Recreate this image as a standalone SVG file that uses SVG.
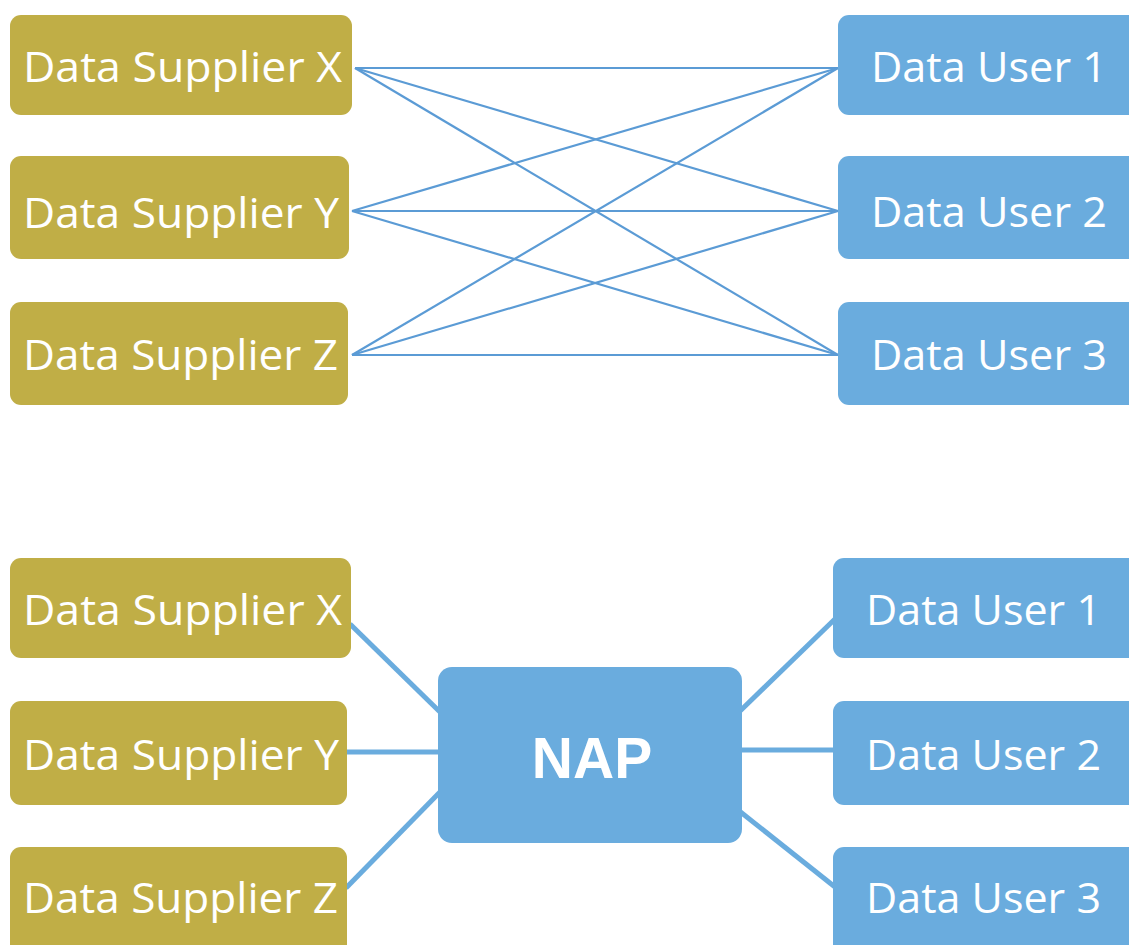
<svg xmlns="http://www.w3.org/2000/svg" width="1129" height="945" viewBox="0 0 1129 945">
<style>
.sup{fill:#c0ae46}
.usr{fill:#6aacde}
.t{font-family:"Open Sans","DejaVu Sans",sans-serif;font-size:42px;fill:#ffffff}
.nap{font-family:"Liberation Sans",Arial,sans-serif;font-size:57px;font-weight:bold;fill:#ffffff}
.thin{stroke:#5b9bd5;stroke-width:2.2;fill:none}
.thick{stroke:#6aacde;stroke-width:5;fill:none}
</style>
<rect width="1129" height="945" fill="#ffffff"/>
<g id="connectors">
<line class="thin" x1="355" y1="68" x2="838" y2="68"/>
<line class="thin" x1="355" y1="68" x2="838" y2="211"/>
<line class="thin" x1="355" y1="68" x2="838" y2="355"/>
<line class="thin" x1="352" y1="211" x2="838" y2="68"/>
<line class="thin" x1="352" y1="211" x2="838" y2="211"/>
<line class="thin" x1="352" y1="211" x2="838" y2="355"/>
<line class="thin" x1="352" y1="355" x2="838" y2="68"/>
<line class="thin" x1="352" y1="355" x2="838" y2="211"/>
<line class="thin" x1="352" y1="355" x2="838" y2="355"/>
<line class="thick" x1="350" y1="624" x2="440" y2="712"/>
<line class="thick" x1="347" y1="752" x2="440" y2="752"/>
<line class="thick" x1="346" y1="888" x2="440" y2="792"/>
<line class="thick" x1="738" y1="713" x2="835" y2="619"/>
<line class="thick" x1="738" y1="750" x2="835" y2="750"/>
<line class="thick" x1="738" y1="810" x2="835" y2="887"/>
</g>
<g id="top-supplier-x"><rect class="sup" x="10" y="15" width="342" height="100" rx="11"/><text class="t" x="23" y="82" textLength="319" lengthAdjust="spacingAndGlyphs">Data Supplier X</text></g>
<g id="top-supplier-y"><rect class="sup" x="10" y="156" width="339" height="103" rx="11"/><text class="t" x="23" y="228" textLength="316" lengthAdjust="spacingAndGlyphs">Data Supplier Y</text></g>
<g id="top-supplier-z"><rect class="sup" x="10" y="302" width="338" height="103" rx="11"/><text class="t" x="23" y="370" textLength="315" lengthAdjust="spacingAndGlyphs">Data Supplier Z</text></g>
<g id="top-user-1"><rect class="usr" x="838" y="15" width="302" height="100" rx="11"/><text class="t" x="871" y="82" textLength="236" lengthAdjust="spacingAndGlyphs">Data User 1</text></g>
<g id="top-user-2"><rect class="usr" x="838" y="156" width="302" height="103" rx="11"/><text class="t" x="871" y="227" textLength="236" lengthAdjust="spacingAndGlyphs">Data User 2</text></g>
<g id="top-user-3"><rect class="usr" x="838" y="302" width="302" height="103" rx="11"/><text class="t" x="871" y="370" textLength="236" lengthAdjust="spacingAndGlyphs">Data User 3</text></g>
<g id="bot-supplier-x"><rect class="sup" x="10" y="558" width="341" height="100" rx="11"/><text class="t" x="23" y="625" textLength="319" lengthAdjust="spacingAndGlyphs">Data Supplier X</text></g>
<g id="bot-supplier-y"><rect class="sup" x="10" y="701" width="337" height="104" rx="11"/><text class="t" x="23" y="770" textLength="316" lengthAdjust="spacingAndGlyphs">Data Supplier Y</text></g>
<g id="bot-supplier-z"><rect class="sup" x="10" y="847" width="337" height="110" rx="11"/><text class="t" x="23" y="913" textLength="315" lengthAdjust="spacingAndGlyphs">Data Supplier Z</text></g>
<g id="nap"><rect class="usr" x="438" y="667" width="304" height="176" rx="14"/><text class="nap" x="592" y="778" text-anchor="middle">NAP</text></g>
<g id="bot-user-1"><rect class="usr" x="833" y="558" width="310" height="100" rx="11"/><text class="t" x="866" y="625" textLength="235" lengthAdjust="spacingAndGlyphs">Data User 1</text></g>
<g id="bot-user-2"><rect class="usr" x="833" y="701" width="310" height="104" rx="11"/><text class="t" x="866" y="770" textLength="235" lengthAdjust="spacingAndGlyphs">Data User 2</text></g>
<g id="bot-user-3"><rect class="usr" x="833" y="847" width="310" height="110" rx="11"/><text class="t" x="866" y="913" textLength="235" lengthAdjust="spacingAndGlyphs">Data User 3</text></g>
</svg>
